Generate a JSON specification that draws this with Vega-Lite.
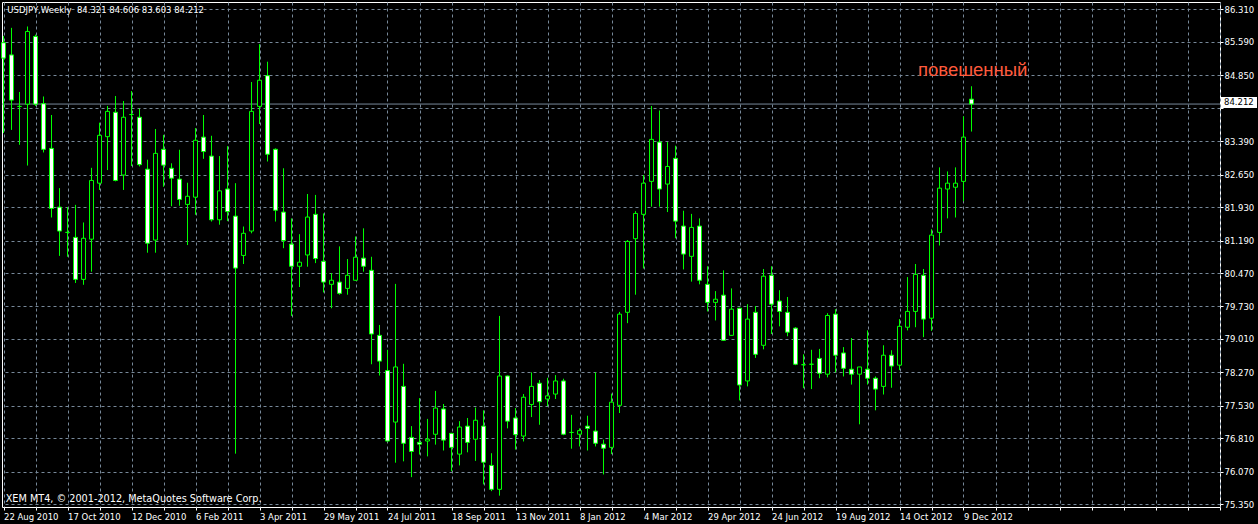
{
  "$schema": "https://vega.github.io/schema/vega-lite/v6.json",
  "width": 1218,
  "height": 505,
  "autosize": {"type": "none"},
  "padding": {"left": 2, "top": 2, "right": 38, "bottom": 17},
  "background": "#000000",
  "config": {
    "view": {"stroke": "#ffffff", "strokeWidth": 1, "fill": "#000000"},
    "axis": {
      "labelFont": "DejaVu Sans",
      "labelFontSize": 8.5,
      "labelColor": "#ffffff",
      "tickColor": "#ffffff",
      "tickSize": 3,
      "domain": false,
      "gridColor": "#778899",
      "gridDash": [3, 3],
      "gridOpacity": 1,
      "gridWidth": 1,
      "labelOverlap": false,
      "labelFlush": false,
      "labelBound": false,
      "title": null
    },
    "text": {"font": "DejaVu Sans"}
  },
  "datasets": {
    "candles": [
      {"date":"2010-08-22","open":85.57,"high":85.72,"low":83.57,"close":85.23},
      {"date":"2010-08-29","open":85.30,"high":85.90,"low":83.64,"close":84.30},
      {"date":"2010-09-05","open":84.16,"high":84.48,"low":83.31,"close":84.16},
      {"date":"2010-09-12","open":84.21,"high":85.93,"low":82.85,"close":85.82},
      {"date":"2010-09-19","open":85.71,"high":85.75,"low":84.17,"close":84.21},
      {"date":"2010-09-26","open":84.22,"high":84.38,"low":83.14,"close":83.21},
      {"date":"2010-10-03","open":83.23,"high":83.97,"low":81.70,"close":81.90},
      {"date":"2010-10-10","open":81.93,"high":82.35,"low":80.85,"close":81.40},
      {"date":"2010-10-17","open":81.37,"high":81.93,"low":80.83,"close":81.37},
      {"date":"2010-10-24","open":81.26,"high":81.98,"low":80.25,"close":80.33},
      {"date":"2010-10-31","open":80.33,"high":81.59,"low":80.21,"close":81.24},
      {"date":"2010-11-07","open":81.22,"high":82.80,"low":80.50,"close":82.52},
      {"date":"2010-11-14","open":82.46,"high":83.80,"low":82.31,"close":83.52},
      {"date":"2010-11-21","open":83.49,"high":84.17,"low":82.75,"close":84.05},
      {"date":"2010-11-28","open":84.03,"high":84.39,"low":82.50,"close":82.52},
      {"date":"2010-12-05","open":82.64,"high":84.28,"low":82.31,"close":83.92},
      {"date":"2010-12-12","open":83.98,"high":84.50,"low":82.84,"close":83.98},
      {"date":"2010-12-19","open":83.92,"high":84.11,"low":82.83,"close":82.87},
      {"date":"2010-12-26","open":82.77,"high":82.98,"low":80.92,"close":81.13},
      {"date":"2011-01-02","open":81.20,"high":83.66,"low":80.92,"close":83.12},
      {"date":"2011-01-09","open":83.21,"high":83.53,"low":82.38,"close":82.86},
      {"date":"2011-01-16","open":82.79,"high":82.90,"low":81.95,"close":82.57},
      {"date":"2011-01-23","open":82.55,"high":83.20,"low":81.96,"close":82.10},
      {"date":"2011-01-30","open":81.99,"high":82.47,"low":81.09,"close":82.17},
      {"date":"2011-02-06","open":82.15,"high":83.68,"low":81.76,"close":83.41},
      {"date":"2011-02-13","open":83.48,"high":83.97,"low":83.00,"close":83.16},
      {"date":"2011-02-20","open":83.06,"high":83.51,"low":81.61,"close":81.65},
      {"date":"2011-02-27","open":81.65,"high":83.06,"low":81.54,"close":82.29},
      {"date":"2011-03-06","open":82.33,"high":83.28,"low":81.62,"close":81.83},
      {"date":"2011-03-13","open":81.73,"high":82.46,"low":76.47,"close":80.58},
      {"date":"2011-03-20","open":80.86,"high":81.50,"low":80.67,"close":81.35},
      {"date":"2011-03-27","open":81.40,"high":84.70,"low":81.35,"close":84.05},
      {"date":"2011-04-03","open":84.16,"high":85.54,"low":83.77,"close":84.74},
      {"date":"2011-04-10","open":84.84,"high":85.15,"low":82.94,"close":83.10},
      {"date":"2011-04-17","open":83.21,"high":83.23,"low":81.61,"close":81.86},
      {"date":"2011-04-24","open":81.82,"high":82.79,"low":81.02,"close":81.19},
      {"date":"2011-05-01","open":81.11,"high":81.68,"low":79.52,"close":80.62},
      {"date":"2011-05-08","open":80.62,"high":81.33,"low":80.16,"close":80.71},
      {"date":"2011-05-15","open":80.87,"high":82.22,"low":80.61,"close":81.71},
      {"date":"2011-05-22","open":81.77,"high":82.20,"low":80.69,"close":80.79},
      {"date":"2011-05-29","open":80.73,"high":81.79,"low":80.04,"close":80.27},
      {"date":"2011-06-05","open":80.22,"high":80.47,"low":79.69,"close":80.31},
      {"date":"2011-06-12","open":80.27,"high":81.06,"low":79.99,"close":80.02},
      {"date":"2011-06-19","open":80.13,"high":80.78,"low":79.99,"close":80.42},
      {"date":"2011-06-26","open":80.31,"high":81.28,"low":80.30,"close":80.82},
      {"date":"2011-07-03","open":80.80,"high":81.46,"low":80.50,"close":80.62},
      {"date":"2011-07-10","open":80.53,"high":80.83,"low":78.45,"close":79.12},
      {"date":"2011-07-17","open":79.09,"high":79.32,"low":78.20,"close":78.52},
      {"date":"2011-07-24","open":78.31,"high":78.77,"low":76.74,"close":76.75},
      {"date":"2011-07-31","open":77.17,"high":80.23,"low":76.27,"close":78.39},
      {"date":"2011-08-07","open":77.96,"high":78.46,"low":76.30,"close":76.70},
      {"date":"2011-08-14","open":76.83,"high":77.08,"low":75.95,"close":76.52},
      {"date":"2011-08-21","open":76.72,"high":77.70,"low":76.45,"close":76.68},
      {"date":"2011-08-28","open":76.75,"high":77.24,"low":76.41,"close":76.79},
      {"date":"2011-09-04","open":76.90,"high":77.86,"low":76.67,"close":77.48},
      {"date":"2011-09-11","open":77.46,"high":77.57,"low":76.54,"close":76.77},
      {"date":"2011-09-18","open":76.92,"high":76.93,"low":76.08,"close":76.61},
      {"date":"2011-09-25","open":76.46,"high":77.19,"low":76.21,"close":77.06},
      {"date":"2011-10-02","open":77.08,"high":77.26,"low":76.50,"close":76.72},
      {"date":"2011-10-09","open":76.79,"high":77.49,"low":76.31,"close":77.21},
      {"date":"2011-10-16","open":77.08,"high":77.43,"low":75.79,"close":76.28},
      {"date":"2011-10-23","open":76.21,"high":76.48,"low":75.64,"close":75.68},
      {"date":"2011-10-30","open":75.68,"high":79.52,"low":75.54,"close":78.19},
      {"date":"2011-11-06","open":78.19,"high":78.20,"low":77.03,"close":77.19},
      {"date":"2011-11-13","open":77.26,"high":77.48,"low":76.56,"close":76.89},
      {"date":"2011-11-20","open":76.86,"high":77.79,"low":76.74,"close":77.72},
      {"date":"2011-11-27","open":77.56,"high":78.27,"low":77.28,"close":77.96},
      {"date":"2011-12-04","open":78.03,"high":78.10,"low":77.11,"close":77.62},
      {"date":"2011-12-11","open":77.68,"high":78.15,"low":77.52,"close":77.75},
      {"date":"2011-12-18","open":77.79,"high":78.21,"low":77.68,"close":78.08},
      {"date":"2011-12-25","open":78.08,"high":78.13,"low":76.88,"close":76.90},
      {"date":"2012-01-01","open":76.94,"high":77.33,"low":76.58,"close":76.94},
      {"date":"2012-01-08","open":76.90,"high":77.03,"low":76.63,"close":76.98},
      {"date":"2012-01-15","open":77.08,"high":77.31,"low":76.54,"close":77.03},
      {"date":"2012-01-22","open":76.97,"high":78.27,"low":76.63,"close":76.70},
      {"date":"2012-01-29","open":76.68,"high":76.78,"low":76.01,"close":76.59},
      {"date":"2012-02-05","open":76.61,"high":77.80,"low":76.46,"close":77.61},
      {"date":"2012-02-12","open":77.54,"high":79.61,"low":77.37,"close":79.56},
      {"date":"2012-02-19","open":79.60,"high":81.20,"low":79.36,"close":81.17},
      {"date":"2012-02-26","open":81.23,"high":81.84,"low":79.99,"close":81.79},
      {"date":"2012-03-04","open":81.77,"high":82.64,"low":80.57,"close":82.46},
      {"date":"2012-03-11","open":82.50,"high":84.17,"low":81.94,"close":83.43},
      {"date":"2012-03-18","open":83.37,"high":84.07,"low":81.94,"close":82.33},
      {"date":"2012-03-25","open":82.44,"high":83.37,"low":81.82,"close":82.83},
      {"date":"2012-04-01","open":83.01,"high":83.29,"low":81.24,"close":81.62},
      {"date":"2012-04-08","open":81.51,"high":81.85,"low":80.55,"close":80.89},
      {"date":"2012-04-15","open":80.84,"high":81.78,"low":80.28,"close":81.48},
      {"date":"2012-04-22","open":81.51,"high":81.68,"low":80.22,"close":80.31},
      {"date":"2012-04-29","open":80.22,"high":80.62,"low":79.62,"close":79.82},
      {"date":"2012-05-06","open":79.82,"high":80.07,"low":79.42,"close":79.89},
      {"date":"2012-05-13","open":79.98,"high":80.53,"low":78.97,"close":78.98},
      {"date":"2012-05-20","open":79.09,"high":80.13,"low":79.08,"close":79.67},
      {"date":"2012-05-27","open":79.69,"high":79.70,"low":77.65,"close":77.99},
      {"date":"2012-06-03","open":78.08,"high":79.78,"low":77.96,"close":79.45},
      {"date":"2012-06-10","open":79.60,"high":79.74,"low":78.59,"close":78.67},
      {"date":"2012-06-17","open":78.87,"high":80.56,"low":78.78,"close":80.40},
      {"date":"2012-06-24","open":80.42,"high":80.62,"low":79.12,"close":79.78},
      {"date":"2012-07-01","open":79.85,"high":80.09,"low":79.29,"close":79.62},
      {"date":"2012-07-08","open":79.60,"high":79.94,"low":79.07,"close":79.16},
      {"date":"2012-07-15","open":79.25,"high":79.27,"low":78.43,"close":78.45},
      {"date":"2012-07-22","open":78.44,"high":78.67,"low":77.92,"close":78.44},
      {"date":"2012-07-29","open":78.45,"high":78.77,"low":77.90,"close":78.45},
      {"date":"2012-08-05","open":78.58,"high":78.79,"low":78.14,"close":78.25},
      {"date":"2012-08-12","open":78.23,"high":79.58,"low":78.16,"close":79.53},
      {"date":"2012-08-19","open":79.56,"high":79.67,"low":78.27,"close":78.65},
      {"date":"2012-08-26","open":78.70,"high":78.83,"low":78.18,"close":78.36},
      {"date":"2012-09-02","open":78.34,"high":79.03,"low":78.00,"close":78.23},
      {"date":"2012-09-09","open":78.23,"high":78.39,"low":77.12,"close":78.39},
      {"date":"2012-09-16","open":78.34,"high":79.20,"low":78.00,"close":78.14},
      {"date":"2012-09-23","open":78.14,"high":78.18,"low":77.43,"close":77.90},
      {"date":"2012-09-30","open":77.96,"high":78.87,"low":77.78,"close":78.65},
      {"date":"2012-10-07","open":78.65,"high":78.76,"low":77.93,"close":78.41},
      {"date":"2012-10-14","open":78.43,"high":79.45,"low":78.32,"close":79.29},
      {"date":"2012-10-21","open":79.27,"high":80.38,"low":79.20,"close":79.62},
      {"date":"2012-10-28","open":79.62,"high":80.67,"low":79.27,"close":80.44},
      {"date":"2012-11-04","open":80.42,"high":80.56,"low":79.05,"close":79.45},
      {"date":"2012-11-11","open":79.47,"high":81.44,"low":79.19,"close":81.31},
      {"date":"2012-11-18","open":81.37,"high":82.81,"low":81.08,"close":82.35},
      {"date":"2012-11-25","open":82.33,"high":82.72,"low":81.68,"close":82.46},
      {"date":"2012-12-02","open":82.37,"high":82.81,"low":81.70,"close":82.46},
      {"date":"2012-12-09","open":82.50,"high":83.94,"low":82.06,"close":83.48},
      {"date":"2012-12-16","open":84.321,"high":84.606,"low":83.603,"close":84.212}
    ],
    "last": [{"price": 84.212}],
    "notes": [{"label": "повешенный", "date": "2012-10-30T04:30:00Z", "price": 84.96}]
  },
  "layer": [
    {
      "data": {"name": "last"},
      "mark": {"type": "rule", "color": "#778899", "strokeWidth": 1},
      "encoding": {
        "y": {
          "field": "price",
          "type": "quantitative",
          "scale": {"domain": [75.289, 86.472], "zero": false, "nice": false, "padding": 0},
          "axis": {
            "orient": "right",
            "values": [86.31, 85.59, 84.85, 84.12, 83.39, 82.65, 81.93, 81.19, 80.47, 79.73, 79.01, 78.27, 77.53, 76.81, 76.07, 75.35],
            "tickCount": 1000,
            "format": ".3f",
            "labelExpr": "datum.value == 84.12 ? '' : datum.label",
            "labelPadding": 1,
            "labelAlign": "left",
            "labelBaseline": "middle",
            "labelOverlap": false,
            "labelFlush": false,
            "grid": true
          }
        }
      }
    },
    {
      "data": {"name": "candles"},
      "mark": {"type": "rule", "color": "#00ff00", "strokeWidth": 1},
      "encoding": {
        "x": {
          "field": "date",
          "type": "temporal",
          "scale": {"type": "utc", "domain": [1282321800000, 1374402600000], "padding": 0, "nice": false},
          "axis": {
            "orient": "bottom",
            "values": [1282435200000, 1284854400000, 1287273600000, 1289692800000, 1292112000000, 1294531200000, 1296950400000, 1299369600000, 1301788800000, 1304208000000, 1306627200000, 1309046400000, 1311465600000, 1313884800000, 1316304000000, 1318723200000, 1321142400000, 1323561600000, 1325980800000, 1328400000000, 1330819200000, 1333238400000, 1335657600000, 1338076800000, 1340496000000, 1342915200000, 1345334400000, 1347753600000, 1350172800000, 1352592000000, 1355011200000, 1357430400000, 1359849600000, 1362268800000, 1364688000000, 1367107200000, 1369526400000, 1371945600000, 1374364800000],
            "tickCount": 1000,
            "labelExpr": "(datum.value <= 1355011200000 && round((datum.value - 1282435200000) / 2419200000) % 2 == 0) ? utcFormat(datum.value, '%-d %b %Y') : ''",
            "labelAlign": "left",
            "labelBaseline": "top",
            "labelPadding": 2,
            "labelOverlap": false,
            "labelFlush": false,
            "grid": true
          }
        },
        "y": {"field": "low", "type": "quantitative"},
        "y2": {"field": "high"}
      }
    },
    {
      "data": {"name": "candles"},
      "mark": {"type": "bar", "size": 4, "stroke": "#00ff00", "strokeWidth": 1},
      "encoding": {
        "x": {"field": "date", "type": "temporal"},
        "y": {"field": "open", "type": "quantitative"},
        "y2": {"field": "close"},
        "fill": {"condition": {"test": "datum.close < datum.open", "value": "#ffffff"}, "value": "#000000"}
      }
    },
    {
      "data": {"name": "last"},
      "mark": {"type": "rect", "color": "#ffffff", "xOffset": 1, "x2Offset": 37, "yOffset": -7, "y2Offset": 4},
      "encoding": {
        "x": {"datum": 1374402600000, "type": "temporal"},
        "x2": {"datum": 1374402600000},
        "y": {"field": "price", "type": "quantitative"},
        "y2": {"field": "price"}
      }
    },
    {
      "data": {"name": "last"},
      "mark": {"type": "text", "color": "#000000", "fontSize": 8.5, "align": "left", "baseline": "middle", "dx": 4, "dy": -2},
      "encoding": {
        "x": {"datum": 1374402600000, "type": "temporal"},
        "y": {"field": "price", "type": "quantitative"},
        "text": {"field": "price", "type": "quantitative", "format": ".3f"}
      }
    },
    {
      "data": {"values": [{"t": "USDJPY,Weekly\u00a0 84.321 84.606 83.603 84.212"}]},
      "mark": {"type": "text", "color": "#ffffff", "fontSize": 8.5, "align": "left", "baseline": "middle"},
      "encoding": {
        "x": {"datum": 1282722480000, "type": "temporal"},
        "y": {"datum": 86.295, "type": "quantitative"},
        "text": {"field": "t"}
      }
    },
    {
      "data": {"values": [{"t": "XEM MT4, © 2001-2012, MetaQuotes Software Corp."}]},
      "mark": {"type": "text", "color": "#ffffff", "fontSize": 9.7, "align": "left", "baseline": "middle"},
      "encoding": {
        "x": {"datum": 1282601520000, "type": "temporal"},
        "y": {"datum": 75.456, "type": "quantitative"},
        "text": {"field": "t"}
      }
    },
    {
      "data": {"name": "notes"},
      "mark": {"type": "text", "color": "#ff5a3c", "font": "Liberation Sans", "fontSize": 18.5, "align": "left", "baseline": "middle"},
      "encoding": {
        "x": {"field": "date", "type": "temporal"},
        "y": {"field": "price", "type": "quantitative"},
        "text": {"field": "label"}
      }
    }
  ]
}
